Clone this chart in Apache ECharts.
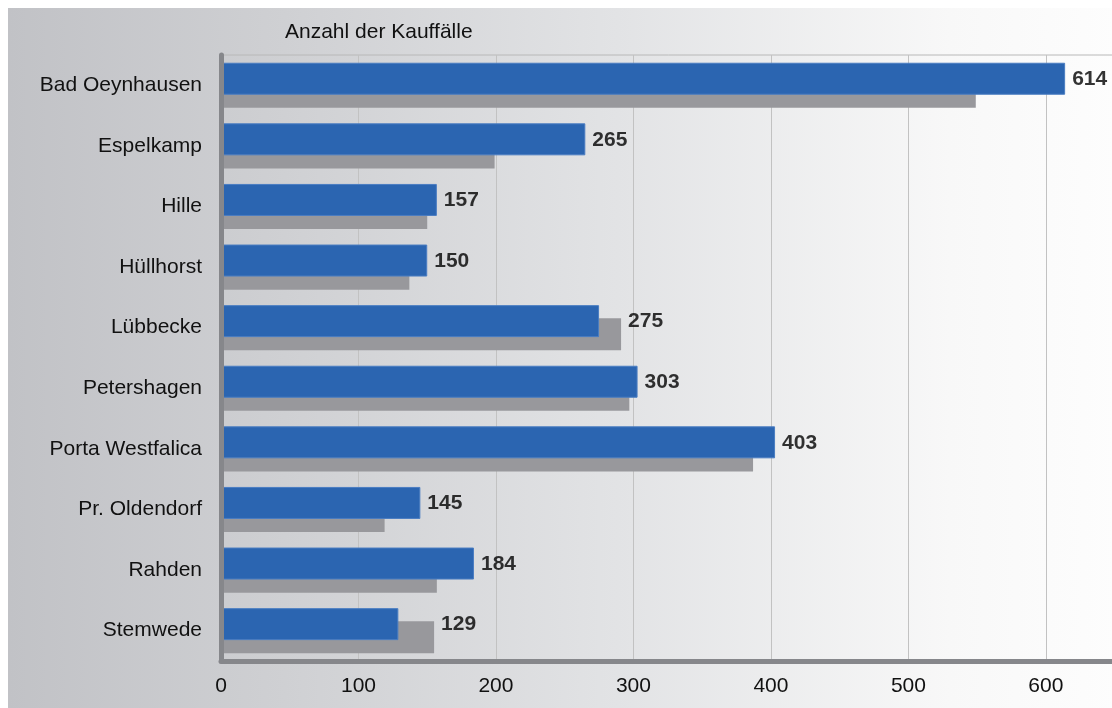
<!DOCTYPE html>
<html>
<head>
<meta charset="utf-8">
<script src="https://cdn.jsdelivr.net/npm/echarts@6/dist/echarts.min.js"></script>
<style>
html,body{margin:0;padding:0;background:#fff;overflow:hidden;}
#chart{width:1116px;height:708px;}
</style>
</head>
<body>
<div id="chart"></div>
<script>
var categories = ['Bad Oeynhausen','Espelkamp','Hille','Hüllhorst','Lübbecke','Petershagen','Porta Westfalica','Pr. Oldendorf','Rahden','Stemwede'];
var currentValues = [614, 265, 157, 150, 275, 303, 403, 145, 184, 129];
var previousValues = [549, 199, 150, 137, 291, 297, 387, 119, 157, 155];
var xTicks = [0, 100, 200, 300, 400, 500, 600];
var titleText = 'Anzahl der Kauffälle';

var labelPoints = categories.map(function (c, i) {
  return { value: [Math.max(currentValues[i], previousValues[i]), c], shown: currentValues[i] };
});

var FONT = '"Liberation Sans", Arial, sans-serif';
var chart = echarts.init(document.getElementById('chart'), null, { renderer: 'canvas' });
chart.setOption({
  animation: false,
  backgroundColor: '#ffffff',
  graphic: [{
    type: 'rect', z: -100, silent: true,
    shape: { x: 8, y: 8, width: 1108, height: 700 },
    style: {
      fill: new echarts.graphic.LinearGradient(0, 0, 1, 0, [
        { offset: 0, color: '#c1c2c6' },
        { offset: 0.25, color: '#cfd0d3' },
        { offset: 0.55, color: '#e2e3e5' },
        { offset: 0.85, color: '#f8f8f8' },
        { offset: 1, color: '#fdfdfd' }
      ])
    }
  }],
  title: {
    text: titleText,
    left: 280, top: 17,
    textStyle: { fontFamily: FONT, fontSize: 21, fontWeight: 'normal', color: '#111' }
  },
  grid: {
    left: 221, right: 0, top: 55, bottom: 47,
    show: true, borderColor: '#b8b8b8', borderWidth: 1, backgroundColor: 'transparent'
  },
  xAxis: {
    type: 'value', min: 0, max: 651, interval: 100,
    axisLine: { show: true, lineStyle: { color: '#86878b', width: 5 } },
    axisTick: { show: false },
    splitLine: { show: true, lineStyle: { color: '#c2c2c2', width: 1 } },
    axisLabel: {
      showMaxLabel: false, margin: 15,
      fontFamily: FONT, fontSize: 21, color: '#111',
      formatter: function (v) { return xTicks.indexOf(v) >= 0 ? String(v) : ''; }
    }
  },
  yAxis: {
    type: 'category', data: categories, inverse: true, z: 10,
    axisLine: { show: true, lineStyle: { color: '#86878b', width: 5 } },
    axisTick: { show: false },
    splitLine: { show: false },
    axisLabel: { margin: 19, fontFamily: FONT, fontSize: 21, color: '#111' }
  },
  series: [
    {
      name: 'aktuell', type: 'bar', data: currentValues, z: 4,
      barWidth: 32, barGap: '-59%',
      itemStyle: { color: '#2b65b1', borderColor: '#4a7dc2', borderWidth: 1 }
    },
    {
      name: 'Vorjahr', type: 'bar', data: previousValues, z: 3,
      barWidth: 32,
      itemStyle: { color: '#98989c' }
    },
    {
      name: 'labels', type: 'scatter', data: labelPoints, z: 6,
      symbolSize: 0, silent: true,
      label: {
        show: true, position: 'right', distance: 7, offset: [0, -6],
        fontFamily: FONT, fontSize: 21, fontWeight: 'bold', color: '#000',
        formatter: function (p) { return String(p.data.shown); }
      }
    }
  ]
});
</script>
</body>
</html>
